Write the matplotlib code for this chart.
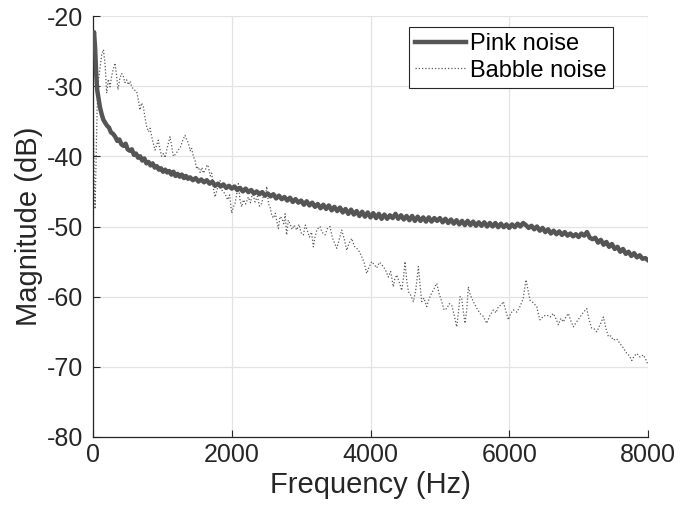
import matplotlib
matplotlib.use("Agg")
import matplotlib.pyplot as plt

pink_freq = [0, 15, 30, 45, 60, 80, 100, 125, 150, 175, 200, 230, 260, 290, 320, 350, 380, 410, 440, 470,
             500, 530, 560, 590, 620, 650, 680, 710, 740, 770, 800, 830, 860, 890, 920, 950, 980, 1010, 1040, 1070,
             1100, 1130, 1160, 1190, 1220, 1250, 1280, 1310, 1340, 1370, 1400, 1440, 1480, 1520, 1560, 1600, 1640, 1680, 1720, 1760,
             1800, 1840, 1880, 1920, 1960, 2000, 2040, 2080, 2120, 2160, 2200, 2240, 2280, 2320, 2360, 2400, 2440, 2480, 2520, 2560,
             2600, 2640, 2680, 2720, 2760, 2800, 2840, 2880, 2920, 2960, 3000, 3040, 3080, 3120, 3160, 3200, 3240, 3280, 3320, 3360,
             3400, 3440, 3480, 3520, 3560, 3600, 3640, 3680, 3720, 3760, 3800, 3840, 3880, 3920, 3960, 4000, 4040, 4080, 4120, 4160,
             4200, 4240, 4280, 4320, 4360, 4400, 4440, 4480, 4520, 4560, 4600, 4640, 4680, 4720, 4760, 4800, 4840, 4880, 4920, 4960,
             5000, 5040, 5080, 5120, 5160, 5200, 5240, 5280, 5320, 5360, 5400, 5440, 5480, 5520, 5560, 5600, 5640, 5680, 5720, 5760,
             5800, 5840, 5880, 5920, 5960, 6000, 6040, 6080, 6120, 6160, 6200, 6240, 6280, 6320, 6360, 6400, 6440, 6480, 6520, 6560,
             6600, 6640, 6680, 6720, 6760, 6800, 6840, 6880, 6920, 6960, 7000, 7040, 7080, 7120, 7160, 7200, 7240, 7280, 7320, 7360,
             7400, 7440, 7480, 7520, 7560, 7600, 7640, 7680, 7720, 7760, 7800, 7840, 7880, 7920, 7960, 8000]
pink_db = [-23.5, -22.3, -24.5, -28.0, -30.5, -31.8, -33.0, -34.0, -34.8, -35.2, -35.6, -35.9, -36.6, -36.8, -37.2, -37.8, -37.6, -38.3, -38.5, -38.2,
           -39.0, -39.2, -39.0, -39.8, -39.6, -40.2, -40.0, -40.6, -40.3, -41.0, -40.8, -41.3, -41.0, -41.6, -41.4, -41.9, -41.7, -42.2, -41.9, -42.3,
           -42.1, -42.6, -42.2, -42.8, -42.5, -42.9, -42.6, -43.1, -42.8, -43.2, -43.0, -43.4, -43.1, -43.6, -43.3, -43.7, -43.4, -43.9, -43.6, -44.2,
           -43.9, -44.3, -44.0, -44.5, -44.2, -44.6, -44.3, -44.8, -44.5, -45.0, -44.6, -45.1, -44.8, -45.3, -45.0, -45.4, -45.1, -45.6, -45.3, -45.7,
           -45.4, -46.0, -45.6, -46.1, -45.8, -46.3, -45.9, -46.5, -46.1, -46.6, -46.3, -46.9, -46.4, -47.0, -46.6, -47.2, -46.8, -47.4, -46.9, -47.5,
           -47.0, -47.7, -47.2, -47.8, -47.3, -48.0, -47.5, -48.2, -47.6, -48.3, -47.8, -48.5, -47.9, -48.6, -48.0, -48.7, -48.1, -48.8, -48.2, -48.9,
           -48.3, -48.9, -48.4, -48.8, -48.2, -48.9, -48.4, -49.0, -48.5, -49.1, -48.5, -49.2, -48.6, -49.2, -48.7, -49.3, -48.7, -49.3, -48.8, -49.2,
           -48.8, -49.4, -48.9, -49.5, -49.0, -49.6, -49.1, -49.7, -49.2, -49.8, -49.2, -49.8, -49.3, -49.9, -49.4, -49.9, -49.4, -50.0, -49.5, -50.0,
           -49.5, -50.1, -49.6, -50.1, -49.7, -50.2, -49.7, -50.1, -49.6, -50.0, -49.5, -49.8, -50.2, -49.9, -50.4, -50.0, -50.6, -50.2, -50.8, -50.4,
           -51.0, -50.6, -51.1, -50.7, -51.2, -50.8, -51.3, -51.0, -51.4, -51.1, -51.5, -51.0, -51.3, -50.8, -51.6, -51.8, -51.6, -52.3, -51.9, -52.6,
           -52.2, -52.9, -52.5, -53.2, -52.9, -53.6, -53.2, -53.9, -53.6, -54.2, -53.8, -54.4, -54.1, -54.6, -54.5, -54.8]

babble_freq = [0, 10, 20, 30, 45, 60, 80, 100, 125, 150, 175, 197, 220, 245, 270, 295, 317, 340, 360, 385,
               410, 432, 460, 486, 510, 535, 558, 590, 630, 655, 677, 700, 725, 750, 774, 800, 823, 846, 870, 894,
               920, 941, 965, 990, 1015, 1040, 1062, 1085, 1110, 1135, 1158, 1180, 1205, 1230, 1260, 1290, 1326, 1350, 1374, 1400,
               1420, 1446, 1470, 1495, 1518, 1545, 1570, 1590, 1620, 1645, 1662, 1690, 1711, 1735, 1759, 1795, 1831, 1865, 1903, 1940,
               1970, 1999, 2025, 2047, 2070, 2095, 2120, 2143, 2170, 2200, 2239, 2270, 2300, 2335, 2370, 2400, 2432, 2460, 2485, 2504,
               2530, 2552, 2576, 2600, 2630, 2650, 2672, 2695, 2720, 2750, 2770, 2791, 2815, 2840, 2870, 2900, 2936, 2970, 3000, 3032,
               3060, 3090, 3120, 3150, 3176, 3200, 3230, 3272, 3300, 3344, 3380, 3416, 3450, 3480, 3513, 3550, 3585, 3620, 3657, 3690,
               3729, 3765, 3801, 3840, 3873, 3910, 3945, 3980, 4017, 4050, 4089, 4130, 4185, 4220, 4257, 4290, 4329, 4350, 4378, 4410,
               4450, 4475, 4498, 4520, 4546, 4580, 4618, 4650, 4670, 4690, 4715, 4738, 4770, 4810, 4845, 4882, 4920, 4955, 4990, 5027,
               5060, 5099, 5135, 5171, 5205, 5243, 5270, 5290, 5315, 5340, 5362, 5387, 5410, 5440, 5482, 5530, 5578, 5625, 5675, 5720,
               5771, 5810, 5843, 5880, 5915, 5950, 5987, 6020, 6059, 6110, 6155, 6200, 6242, 6270, 6299, 6350, 6396, 6420, 6443, 6490,
               6540, 6590, 6636, 6675, 6708, 6745, 6780, 6815, 6852, 6890, 6924, 6970, 7020, 7070, 7117, 7150, 7189, 7225, 7261, 7310,
               7357, 7390, 7429, 7465, 7501, 7550, 7597, 7645, 7694, 7730, 7766, 7800, 7838, 7885, 7934, 7970, 8000]
babble_db = [-30.0, -38.0, -44.0, -47.5, -40.0, -33.0, -29.0, -27.5, -25.5, -24.8, -27.0, -31.0, -29.0, -30.1, -28.5, -27.5, -26.7, -28.5, -30.5, -29.0,
             -28.2, -28.4, -29.5, -29.1, -29.8, -29.3, -30.1, -30.5, -30.8, -32.0, -33.4, -32.4, -32.9, -34.5, -35.8, -36.5, -36.0, -37.2, -38.2, -39.1,
             -38.3, -37.7, -39.0, -40.0, -39.6, -40.2, -39.1, -38.2, -37.2, -38.6, -40.0, -39.8, -39.5, -39.1, -38.7, -37.8, -37.0, -37.6, -38.1, -39.2,
             -38.8, -40.0, -40.6, -41.8, -41.5, -42.3, -41.6, -42.4, -41.9, -41.2, -41.5, -42.8, -42.4, -44.5, -45.8, -44.5, -43.4, -45.0, -45.3, -46.2,
             -45.5, -48.1, -47.2, -46.7, -45.5, -43.9, -46.3, -47.2, -46.2, -46.8, -45.8, -46.6, -45.2, -46.5, -45.7, -47.1, -46.7, -45.4, -45.8, -44.3,
             -46.8, -47.2, -48.4, -48.8, -48.1, -49.3, -50.3, -48.6, -48.8, -49.6, -48.2, -51.2, -49.1, -49.6, -50.4, -49.8, -50.5, -49.7, -50.9, -51.2,
             -49.8, -50.6, -51.5, -50.8, -52.9, -51.5, -50.4, -50.0, -50.8, -51.2, -50.3, -50.0, -51.6, -52.3, -53.1, -51.8, -50.5, -51.7, -53.4, -52.4,
             -51.7, -52.8, -53.1, -53.6, -54.3, -55.2, -56.7, -55.8, -55.0, -55.4, -55.9, -55.1, -55.7, -56.3, -57.2, -56.4, -58.6, -57.5, -56.9, -57.8,
             -59.1, -57.3, -55.0, -57.5, -59.3, -59.8, -60.7, -59.2, -57.6, -55.7, -58.4, -60.7, -60.2, -61.4, -60.3, -59.5, -58.8, -58.1, -59.6, -60.7,
             -61.9, -61.7, -61.0, -61.2, -62.6, -64.3, -62.0, -60.0, -60.2, -62.3, -63.8, -61.9, -58.6, -59.8, -60.7, -61.6, -62.4, -62.8, -63.8, -62.7,
             -61.9, -62.3, -61.4, -61.2, -60.7, -62.0, -63.3, -62.4, -61.9, -62.2, -61.4, -60.3, -57.6, -59.0, -60.5, -60.9, -61.4, -62.5, -63.3, -62.8,
             -62.6, -62.9, -62.4, -63.2, -64.0, -63.1, -63.6, -62.9, -62.4, -63.5, -64.3, -63.6, -62.9, -62.2, -61.7, -63.3, -64.5, -64.6, -65.0, -64.0,
             -62.9, -64.4, -65.7, -65.6, -66.2, -66.0, -66.7, -67.3, -68.1, -68.4, -69.1, -68.5, -68.1, -68.6, -68.3, -69.0, -69.7]

x_ticks = [0, 2000, 4000, 6000, 8000]
y_ticks = [-80, -70, -60, -50, -40, -30, -20]
series_labels = ["Pink noise", "Babble noise"]

plt.rcParams['font.family'] = ['Liberation Sans', 'DejaVu Sans']

fig = plt.figure(figsize=(6.81, 5.15), dpi=100)
ax = fig.add_axes([93/681, 78/515, 555/681, 421/515])

ax.plot(pink_freq, pink_db, color='#555555', lw=3.2, solid_joinstyle='round', label=series_labels[0], zorder=3)
ax.plot(babble_freq, babble_db, color='#5a5a5a', lw=0.9, linestyle=(0, (1, 1.6)), label=series_labels[1], zorder=2)

ax.set_xlim(0, 8000)
ax.set_ylim(-80, -20)
ax.set_xticks(x_ticks)
ax.set_yticks(y_ticks)
ax.set_xticklabels([str(v) for v in x_ticks], fontsize=18)
ax.set_yticklabels([str(v) for v in y_ticks], fontsize=18)
ax.grid(True, color='#e3e3e3', lw=0.9)
ax.set_axisbelow(True)
for s in ['top', 'right']:
    ax.spines[s].set_visible(False)
for s in ['left', 'bottom']:
    ax.spines[s].set_color('#262626')
    ax.spines[s].set_linewidth(0.9)
ax.tick_params(direction='in', length=5, width=0.8, color='#262626', labelcolor='#262626')
ax.tick_params(axis='y', pad=7)
ax.tick_params(axis='x', pad=4)

ax.set_xlabel("Frequency (Hz)", fontsize=21, color='#262626', labelpad=3)
ax.set_ylabel("Magnitude (dB)", fontsize=21, color='#262626', labelpad=3)

leg = ax.legend(loc='upper right', bbox_to_anchor=((613-93)/555, (437-27)/421), borderaxespad=0,
                fontsize=17, handlelength=2.15, handletextpad=0.2, borderpad=0.25, labelspacing=0.2,
                frameon=True, fancybox=False, framealpha=1, edgecolor='#262626')
leg.get_frame().set_linewidth(0.8)

fig.savefig("out.png", dpi=100)
